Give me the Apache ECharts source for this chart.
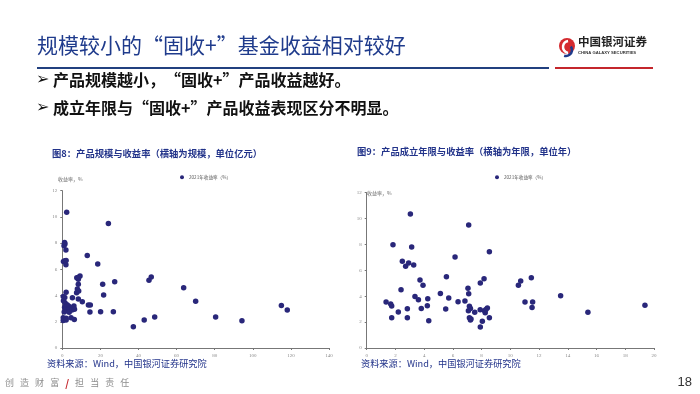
<!DOCTYPE html>
<html>
<head>
<meta charset="utf-8">
<script src="https://cdn.jsdelivr.net/npm/echarts@6/dist/echarts.min.js"></script>
<style>
html,body{margin:0;padding:0;background:#fff;}
#c{width:700px;height:394px;}
</style>
</head>
<body>
<div id="c"></div>
<script>
// Chart 8: fund size (亿元) vs 2021 return (%)
var sizeX = [2.3,24.2,0.9,1.4,1.2,1.9,13.1,0.6,1.4,2.0,1.9,18.6,7.6,8.4,9.3,8.6,27.5,45.5,46.7,21.2,8.4,7.9,63.7,2.0,7.5,8.6,21.7,0.5,1.3,5.3,8.4,10.5,70,0.6,1.4,13.7,14.7,115,118.1,2.5,3.3,1.2,2.0,3.8,4.6,5.7,6.1,1.6,2.6,3.4,1.0,3.6,5.1,6.4,14.5,20.1,26.8,0.5,0.5,2.0,2.0,4.6,6.3,48.5,80.5,43,94.3,37.3];
var sizeY = [10.35,9.5,7.8,7.94,8.04,7.48,7.05,6.6,6.65,6.68,6.35,6.41,5.35,5.25,5.5,5.4,5.06,5.16,5.42,4.86,4.86,4.5,4.6,4.25,4.22,4.35,4.04,3.92,3.85,3.84,3.74,3.53,3.56,3.6,3.46,3.28,3.28,3.25,2.9,3.3,3.2,3.1,3.0,3.05,3.0,3.1,3.2,2.9,2.85,2.92,2.75,2.72,2.9,2.95,2.75,2.77,2.77,2.3,2.1,2.27,2.14,2.3,2.18,2.36,2.36,2.14,2.08,1.63];
// Chart 9: fund age (years) vs 2021 return (%)
var ageX = [1.35,1.67,1.74,1.74,1.83,2.2,2.39,2.48,2.71,2.83,2.83,2.92,3.04,3.13,3.27,3.36,3.6,3.71,3.8,3.92,4.22,4.25,4.32,5.13,5.5,5.55,5.71,6.15,6.36,6.84,7.05,7.1,7.1,7.15,7.08,7.22,7.15,7.22,7.26,7.52,7.9,7.91,7.91,8.05,8.17,8.2,8.25,8.4,8.3,8.54,8.54,10.56,10.72,11.02,11.46,11.55,11.51,13.5,15.4,19.37];
var ageY = [3.55,3.4,3.24,2.34,7.98,2.78,4.5,6.7,6.31,3.04,2.34,6.57,10.35,7.8,6.41,3.97,3.73,5.25,3.06,4.84,3.27,3.81,2.11,4.22,3.01,5.51,3.86,7.03,3.58,3.63,4.61,9.5,4.2,3.22,2.88,3.06,2.34,2.16,2.25,2.76,2.96,5.02,1.62,2.06,5.36,2.88,2.73,3.1,2.98,7.44,2.34,4.84,5.18,3.55,5.43,3.55,3.12,4.04,2.76,3.3];
var xTicks8 = [0,20,40,60,80,100,120,140];
var xTicks9 = [0,2,4,6,8,10,12,14,16,18,20];
var yTicks = [0,2,4,6,8,10,12];
var seriesName = '2021年收益率（%）';

function pairs(xs, ys){ return xs.map(function(x,i){return [x, ys[i]];}); }

var CJK = '"Noto Sans CJK SC", "Noto Sans", sans-serif';
var dotColor = '#29277a';
var axisCommon = {
  axisLine:{show:true, lineStyle:{color:'#777', width:1}},
  axisTick:{show:true, length:2, lineStyle:{color:'#777'}},
  axisLabel:{fontSize:5, color:'#888', fontFamily:'"Liberation Serif", serif', margin:5},
  splitLine:{show:false}
};
function mk(o){ return Object.assign({}, JSON.parse(JSON.stringify(axisCommon)), o); }

var chart = echarts.init(document.getElementById('c'), null, {renderer:'canvas'});
var option = {
  animation:false,
  backgroundColor:'#fff',
  textStyle:{fontFamily:CJK},
  grid:[
    {left:62.3, top:190.7, width:266.7, height:157.3, containLabel:false},
    {left:366.7, top:192.7, width:287.3, height:155.3, containLabel:false}
  ],
  xAxis:[
    mk({type:'value', gridIndex:0, min:xTicks8[0], max:xTicks8[xTicks8.length-1], interval:20}),
    mk({type:'value', gridIndex:1, min:xTicks9[0], max:xTicks9[xTicks9.length-1], interval:2})
  ],
  yAxis:[
    mk({type:'value', gridIndex:0, min:yTicks[0], max:yTicks[yTicks.length-1], interval:2}),
    mk({type:'value', gridIndex:1, min:yTicks[0], max:yTicks[yTicks.length-1], interval:2})
  ],
  legend:[
    {left:175, top:170, itemWidth:4, itemHeight:4, itemGap:2, icon:'circle',
     textStyle:{fontSize:4.6, color:'#555', fontFamily:CJK}, data:[seriesName]},
    {left:490, top:170, itemWidth:4, itemHeight:4, itemGap:2, icon:'circle',
     textStyle:{fontSize:4.6, color:'#555', fontFamily:CJK}, data:[seriesName]}
  ],
  series:[
    {name:seriesName, type:'scatter', xAxisIndex:0, yAxisIndex:0, symbolSize:5.5,
     itemStyle:{color:dotColor, opacity:1}, data:pairs(sizeX, sizeY)},
    {name:seriesName, type:'scatter', xAxisIndex:1, yAxisIndex:1, symbolSize:5.5,
     itemStyle:{color:dotColor, opacity:1}, data:pairs(ageX, ageY)}
  ],
  graphic:[
    // title
    {type:'text', left:37, top:35, style:{text:'规模较小的“固收+”基金收益相对较好', fontSize:21, fill:'#1f3b8c', fontFamily:CJK}},
    // header lines
    {type:'rect', shape:{x:37, y:67, width:512, height:2}, style:{fill:'#21407f'}},
    {type:'rect', shape:{x:555, y:67, width:98, height:2}, style:{fill:'#c4262c'}},
    // logo
    {type:'circle', shape:{cx:567, cy:46, r:8}, style:{fill:'#d42a2f'}},
    {type:'arc', shape:{cx:569, cy:47, r:6, startAngle:Math.PI*0.55, endAngle:Math.PI*1.45}, style:{stroke:'#ffffff', lineWidth:2.5, fill:null}},
    {type:'arc', shape:{cx:566, cy:50, r:6, startAngle:-Math.PI*0.2, endAngle:Math.PI*0.6}, style:{stroke:'#1f3b8c', lineWidth:2.5, fill:null}},
    {type:'text', left:578, top:36, style:{text:'中国银河证券', fontSize:11.5, fontWeight:'bold', fill:'#222', fontFamily:CJK}},
    {type:'text', left:578, top:51, style:{text:'CHINA GALAXY SECURITIES', fontSize:4.2, fontWeight:'bold', fill:'#333', fontFamily:'"Liberation Sans", sans-serif'}},
    // bullets
    {type:'text', left:36, top:72, style:{text:'➢', fontSize:16, fill:'#111', fontFamily:'"DejaVu Sans", sans-serif'}},
    {type:'text', left:53, top:72, style:{text:'产品规模越小，“固收+”产品收益越好。', fontSize:16, fontWeight:'bold', fill:'#111', fontFamily:CJK}},
    {type:'text', left:36, top:100, style:{text:'➢', fontSize:16, fill:'#111', fontFamily:'"DejaVu Sans", sans-serif'}},
    {type:'text', left:53, top:100, style:{text:'成立年限与“固收+”产品收益表现区分不明显。', fontSize:16, fontWeight:'bold', fill:'#111', fontFamily:CJK}},
    // chart titles
    {type:'text', left:52, top:149, style:{text:'图8：产品规模与收益率（横轴为规模，单位亿元）', fontSize:9.3, fontWeight:'bold', fill:'#22338a', fontFamily:CJK}},
    {type:'text', left:357, top:147, style:{text:'图9：产品成立年限与收益率（横轴为年限，单位年）', fontSize:9.3, fontWeight:'bold', fill:'#22338a', fontFamily:CJK}},
    // y-axis names
    {type:'text', left:58, top:177, style:{text:'收益率，%', fontSize:5, fill:'#666', fontFamily:CJK}},
    {type:'text', left:367, top:191, style:{text:'收益率，%', fontSize:5, fill:'#666', fontFamily:CJK}},
    // sources
    {type:'text', left:47, top:359, style:{text:'资料来源：Wind，中国银河证券研究院', fontSize:9.2, fill:'#22338a', fontFamily:CJK}},
    {type:'text', left:361, top:359, style:{text:'资料来源：Wind，中国银河证券研究院', fontSize:9.2, fill:'#22338a', fontFamily:CJK}},
    // footer
    {type:'text', left:5, top:378, style:{rich:{a:{fontSize:9, fill:'#8c8c8c', fontFamily:CJK}, r:{fontSize:10, fill:'#c4262c', fontWeight:'bold', fontFamily:CJK}}, text:'{a|创   造   财   富   }{r|/}{a|   担   当   责   任}'}},
    {type:'text', right:8, top:376, style:{text:'18', fontSize:13, fill:'#333', fontFamily:'"Liberation Sans", sans-serif'}}
  ]
};
chart.setOption(option);
</script>
</body>
</html>
